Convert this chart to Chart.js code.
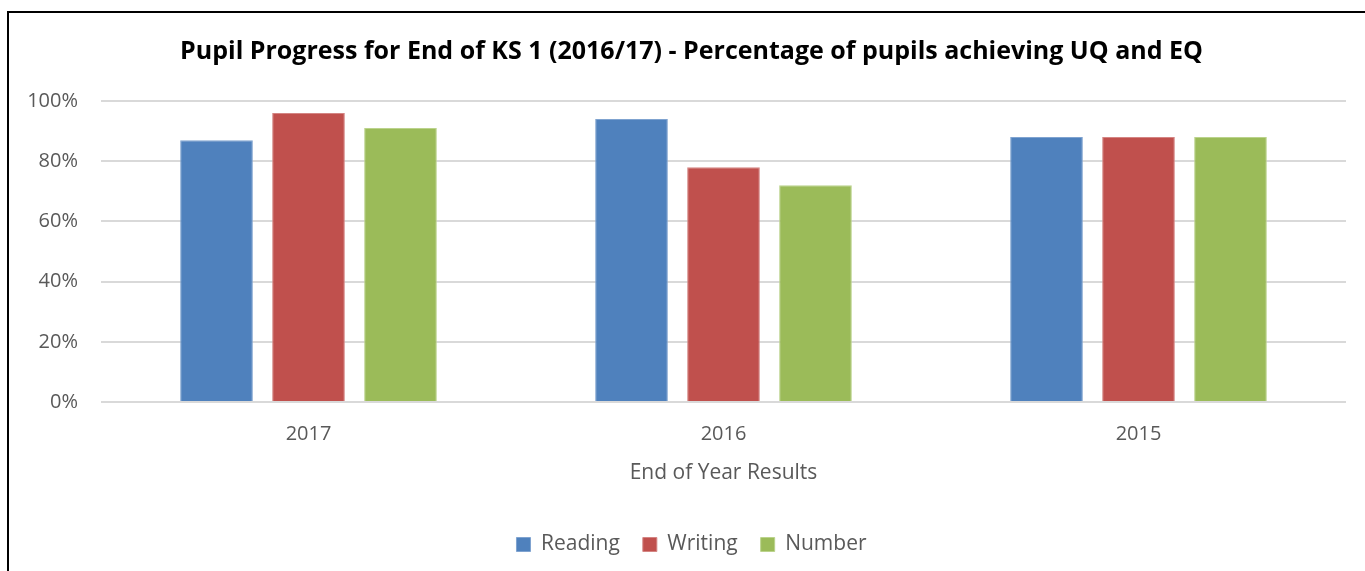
<!DOCTYPE html>
<html>
<head>
<meta charset="utf-8">
<script src="https://cdn.jsdelivr.net/npm/chart.js@4"></script>
<style>
  html, body { margin: 0; padding: 0; background: #fff; overflow: hidden; }
  #wrap { position: relative; width: 1365px; height: 571px; }
  #grafico { position: absolute; left: 0; top: 0; }
  /* moldura preta do gráfico (só esquerda e topo aparecem no recorte) */
  #moldura {
    position: absolute; left: 7px; top: 11px; width: 1400px; height: 600px;
    border: 2px solid #000; pointer-events: none;
  }
</style>
</head>
<body>
<div id="wrap">
  <canvas id="grafico" width="1365" height="571"></canvas>
  <div id="moldura"></div>
</div>
<script>
/* ── Dados ───────────────────────────────────────────── */
const categorias = ['2017', '2016', '2015'];
const leitura    = [87, 94, 88];   // Reading
const escrita    = [96, 78, 88];   // Writing
const numeros    = [91, 72, 88];   // Number
const ticksY     = [0, 20, 40, 60, 80, 100];

const corTexto = '#595959';
const fonte = '"Open Sans", sans-serif';

function serie(label, dados, cor, borda) {
  return {
    label,
    data: dados,
    backgroundColor: cor,
    borderColor: borda,
    borderWidth: 1,
    categoryPercentage: 0.665,
    barPercentage: 0.79,
  };
}

// Desloca título e legenda para a direita (no original ficam centrados na moldura)
const deslocaCentro = {
  id: 'deslocaCentro',
  afterLayout(chart) {
    const dx = 13.5;
    [chart.titleBlock, chart.legend].forEach(b => {
      if (b) { b.left += dx; b.right += dx; }
    });
  },
};

new Chart(document.getElementById('grafico').getContext('2d'), {
  type: 'bar',
  data: {
    labels: categorias,
    datasets: [
      serie('Reading', leitura, '#4F81BD', '#7FA3D0'),
      serie('Writing', escrita, '#C0504D', '#D48583'),
      serie('Number',  numeros, '#9BBB59', '#BBD38C'),
    ],
  },
  plugins: [deslocaCentro],
  options: {
    responsive: false,
    animation: false,
    layout: { padding: { top: 37, left: 10, right: 19, bottom: 6 } },
    plugins: {
      title: {
        display: true,
        text: 'Pupil Progress for End of KS 1 (2016/17) - Percentage of pupils achieving UQ and EQ',
        color: '#000',
        font: { family: fonte, size: 25, weight: 'bold' },
        padding: { top: 0, bottom: 34 },
      },
      legend: {
        position: 'bottom',
        labels: {
          color: corTexto,
          font: { family: fonte, size: 21 },
          boxWidth: 14,
          boxHeight: 14,
          padding: 23,
        },
      },
      tooltip: { enabled: false },
    },
    scales: {
      x: {
        grid: { display: false, drawTicks: false },
        border: { display: false },
        ticks: { color: corTexto, font: { family: fonte, size: 20 }, padding: 20 },
        title: {
          display: true,
          text: 'End of Year Results',
          color: corTexto,
          font: { family: fonte, size: 21 },
          padding: { top: 8, bottom: 25 },
        },
        afterFit(scale) { scale.height = 109; },
      },
      y: {
        min: 0,
        max: 100,
        afterBuildTicks(scale) { scale.ticks = ticksY.map(v => ({ value: v })); },
        grid: { color: '#D9D9D9', lineWidth: 2, drawTicks: false },
        border: { display: false },
        ticks: {
          color: corTexto,
          font: { family: fonte, size: 20 },
          padding: 23,
          callback: v => v + '%',
        },
        afterFit(scale) { scale.width = 91; },
      },
    },
  },
});
</script>
</body>
</html>
